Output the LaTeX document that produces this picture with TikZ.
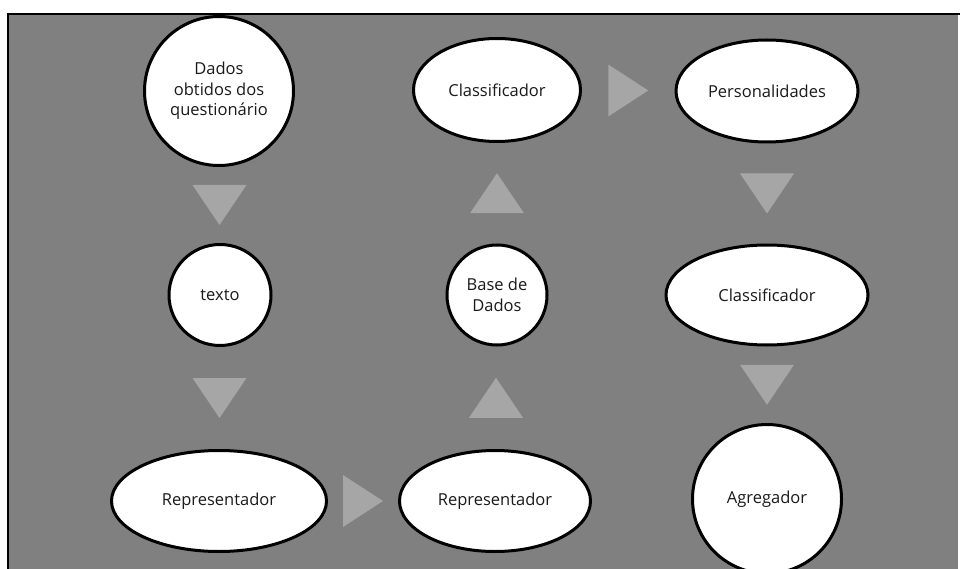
\documentclass[tikz,border=0pt]{standalone}
\usepackage{fontspec}
\setmainfont{Open Sans}
\usetikzlibrary{shapes.geometric,calc}
\definecolor{bggray}{HTML}{808080}
\definecolor{trigray}{HTML}{A6A6A6}
\definecolor{txt}{HTML}{1A1A1A}
\tikzset{
  blob/.style={ellipse,draw=black,line width=3pt,fill=white,inner sep=0pt,
    text=txt,align=center,font=\fontsize{16.5}{20.5}\selectfont},
  tri/.style={fill=trigray,draw=none},
}
\begin{document}
\begin{tikzpicture}[x=1pt,y=-1pt]
\useasboundingbox (0,0) rectangle (960,569);
\fill[bggray] (8,14) rectangle (958,569);
\draw[line width=2pt] (8,569) -- (8,14) -- (960,14);
% nodes
\node[blob,minimum width=149,minimum height=149] (n1) at (219,91) {Dados\\obtidos dos\\questionário};
\node[blob,minimum width=102,minimum height=101] (n2) at (220,295) {texto};
\node[blob,minimum width=215,minimum height=101] (n3) at (219,501) {Representador};
\node[blob,minimum width=191,minimum height=101] (n4) at (495,501) {Representador};
\node[blob,minimum width=100,minimum height=100] (n5) at (497,295) {Base de\\Dados};
\node[blob,minimum width=167,minimum height=103] (n6) at (497,90) {Classificador};
\node[blob,minimum width=182,minimum height=102] (n7) at (767,91) {Personalidades};
\node[blob,minimum width=202,minimum height=100] (n8) at (767,295) {Classificador};
\node[blob,minimum width=149,minimum height=149] (n9) at (767,499) {Agregador};
% triangle connectors
\fill[tri] ($(n1.south)!0.5!(n2.north)$) ++(-27,-20) -- ++(54,0) -- ++(-27,40) -- cycle;
\fill[tri] ($(n2.south)!0.5!(n3.north)$) ++(-27,-20) -- ++(54,0) -- ++(-27,40) -- cycle;
\fill[tri] ($(n3.east)!0.5!(n4.west)$) ++(-20,-26) -- ++(40,26) -- ++(-40,26) -- cycle;
\fill[tri] ($(n4.north)!0.5!(n5.south)$) ++(-27,20) -- ++(54,0) -- ++(-27,-40) -- cycle;
\fill[tri] ($(n5.north)!0.5!(n6.south)$) ++(-27,20) -- ++(54,0) -- ++(-27,-40) -- cycle;
\fill[tri] ($(n6.east)!0.5!(n7.west)$) ++(-20,-26) -- ++(40,26) -- ++(-40,26) -- cycle;
\fill[tri] ($(n7.south)!0.5!(n8.north)$) ++(-27,-20) -- ++(54,0) -- ++(-27,40) -- cycle;
\fill[tri] ($(n8.south)!0.5!(n9.north)$) ++(-27,-20) -- ++(54,0) -- ++(-27,40) -- cycle;
\end{tikzpicture}
\end{document}
